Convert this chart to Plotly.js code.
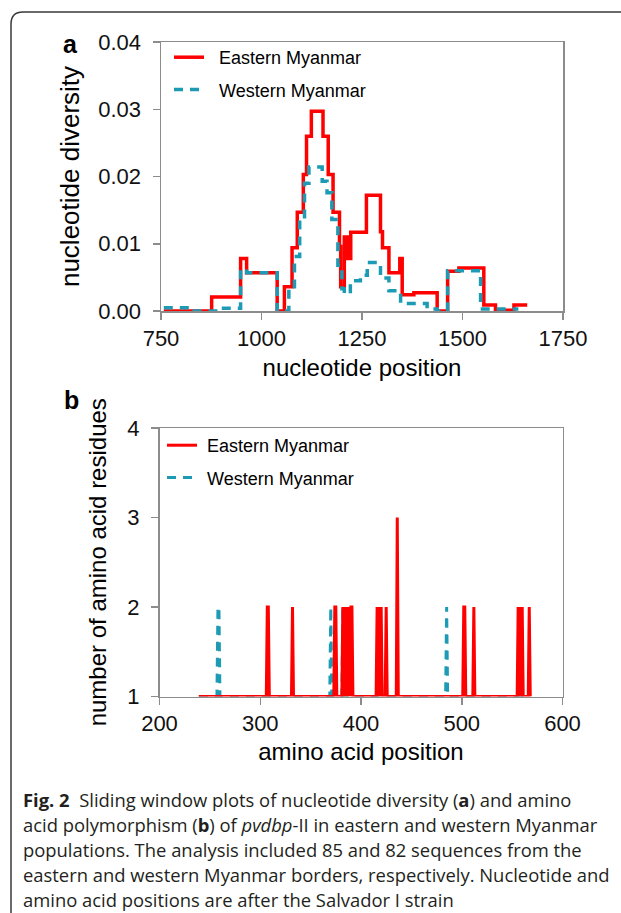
<!DOCTYPE html>
<html>
<head>
<meta charset="utf-8">
<script src="https://cdn.plot.ly/plotly-3.0.1.min.js"></script>
<style>
  html, body { margin: 0; padding: 0; background: #fff; }
  #chart { width: 621px; height: 913px; }
</style>
</head>
<body>
<div id="chart"></div>
<script>
// ---------- Panel a: nucleotide diversity (sliding window, step values) ----------
const ntEastPos = [757, 876, 948, 963, 1039, 1057, 1076, 1089, 1104, 1112, 1124, 1153, 1166, 1178, 1194, 1197, 1206, 1211, 1215, 1219, 1222, 1261, 1296, 1301, 1317, 1344, 1350, 1379, 1437, 1463, 1491, 1553, 1582, 1628, 1661];
const ntEastPi  = [0.0000, 0.0021, 0.0078, 0.0057, 0.0000, 0.0036, 0.0094, 0.0147, 0.0203, 0.0260, 0.0297, 0.0260, 0.0203, 0.0147, 0.0096, 0.0036, 0.0110, 0.0078, 0.0110, 0.0078, 0.0117, 0.0172, 0.0118, 0.0094, 0.0057, 0.0078, 0.0024, 0.0027, 0.0000, 0.0059, 0.0064, 0.0009, 0.0001, 0.0009, 0.0009];

const ntWestPos = [757, 823, 898, 948, 963, 1039, 1068, 1082, 1095, 1107, 1118, 1151, 1163, 1175, 1190, 1200, 1206, 1221, 1246, 1263, 1296, 1317, 1346, 1412, 1437, 1463, 1545, 1639];
const ntWestPi  = [0.0005, 0.0000, 0.0004, 0.0062, 0.0057, 0.0000, 0.0036, 0.0081, 0.0136, 0.0190, 0.0214, 0.0193, 0.0176, 0.0136, 0.0068, 0.0033, 0.0026, 0.0045, 0.0053, 0.0072, 0.0049, 0.0030, 0.0011, 0.0003, 0.0000, 0.0060, 0.0003, 0.0003];

// ---------- Panel b: number of amino acid residues ----------
const aaEastPos = [239, 306, 307, 308, 309, 331, 332, 333, 373, 374, 375, 376,
                   381, 382, 383, 384, 385, 386, 387, 388, 389, 390, 391, 392,
                   415, 416, 417, 418, 419, 420, 421, 424, 425, 426, 435, 436, 437,
                   501, 502, 503, 504, 511, 512, 513,
                   555, 556, 557, 558, 559, 560, 561, 566, 567, 568];
const aaEastRes = [1, 1, 2, 2, 1, 1, 2, 1, 1, 2, 2, 1,
                   1, 2, 1, 2, 1, 2, 1, 2, 1, 2, 2, 1,
                   1, 2, 1, 2, 1, 2, 1, 1, 2, 1, 1, 3, 1,
                   1, 2, 2, 1, 1, 2, 1,
                   1, 2, 1, 2, 1, 2, 1, 1, 2, 1];

const aaWestPos = [239, 257, 258, 259, 260, 369, 370, 371, 381, 382, 383, 389, 390, 391, 484, 485, 486, 568];
const aaWestRes = [1,   1,   2,   2,   1,   1,   2,   1,   1,   2,   1,   1,   2,   1,   1,   2,   1,   1];

const seriesNames = ["Eastern Myanmar", "Western Myanmar"];

const xTitleA = "nucleotide position";
const yTitleA = "nucleotide diversity";
const xTitleB = "amino acid position";
const yTitleB = "number of amino acid residues";

const captionLines = [
  "<b>Fig. 2</b>  Sliding window plots of nucleotide diversity (<b>a</b>) and amino",
  "acid polymorphism (<b>b</b>) of <i>pvdbp</i>-II in eastern and western Myanmar",
  "populations. The analysis included 85 and 82 sequences from the",
  "eastern and western Myanmar borders, respectively. Nucleotide and",
  "amino acid positions are after the Salvador I strain"
];

// ---------- styling ----------
const W = 621, H = 913;
const RED = "#ff0000";
const BLUE = "#1e9bb4";
const AXC = "#8c8c8c";
const FONT = "Liberation Sans, Arial, sans-serif";
const px = v => v / W;
const py = v => 1 - v / H;
const NB = "\u00a0";

const traces = [
  { x: ntEastPos, y: ntEastPi, type: "scatter", mode: "lines", name: NB + NB + seriesNames[0],
    line: { color: RED, width: 3.5, shape: "hv" }, xaxis: "x", yaxis: "y",
    legend: "legend", legendgroup: "e1" },
  { x: ntWestPos, y: ntWestPi, type: "scatter", mode: "lines", name: NB + NB + seriesNames[1],
    line: { color: BLUE, width: 3.5, shape: "hv", dash: "9px,7px" }, xaxis: "x", yaxis: "y",
    legend: "legend", legendgroup: "w1" },
  { x: aaWestPos, y: aaWestRes, type: "scatter", mode: "lines", name: NB + seriesNames[1],
    line: { color: BLUE, width: 3, dash: "9px,7px" }, xaxis: "x2", yaxis: "y2",
    legend: "legend2", legendgroup: "w2", legendrank: 2 },
  { x: aaEastPos, y: aaEastRes, type: "scatter", mode: "lines", name: NB + seriesNames[0],
    line: { color: RED, width: 3 }, xaxis: "x2", yaxis: "y2",
    legend: "legend2", legendgroup: "e2", legendrank: 1 }
];

const axisBase = {
  showline: true, linecolor: AXC, linewidth: 1.5, mirror: true,
  ticks: "outside", ticklen: 7, tickwidth: 1.5, tickcolor: AXC,
  showgrid: false, zeroline: false,
  tickfont: { family: FONT, size: 22, color: "#111" },
  automargin: false, fixedrange: true
};

const annotations = [
  { text: "<b>a</b>", x: px(70), y: py(44), xref: "paper", yref: "paper",
    xanchor: "center", yanchor: "middle", showarrow: false,
    font: { family: FONT, size: 25, color: "#000" } },
  { text: "<b>b</b>", x: px(71), y: py(400), xref: "paper", yref: "paper",
    xanchor: "center", yanchor: "middle", showarrow: false,
    font: { family: FONT, size: 25, color: "#000" } }
];
const capY = [799, 824.2, 849.4, 874.6, 899.8];
captionLines.forEach((t, i) => {
  annotations.push({ text: t, x: px(21), y: py(capY[i]), xref: "paper", yref: "paper",
    xanchor: "left", yanchor: "middle", align: "left", showarrow: false,
    font: { family: "Open Sans, Noto Sans, sans-serif", size: 18.4, color: "#231f20" } });
});

const layout = {
  width: W, height: H,
  margin: { l: 0, r: 0, t: 0, b: 0, pad: 0 },
  paper_bgcolor: "#fff", plot_bgcolor: "#fff",
  font: { family: FONT, color: "#000" },
  showlegend: true,
  xaxis: Object.assign({}, axisBase, {
    domain: [px(161), px(563)], range: [750, 1750], tick0: 750, dtick: 250, anchor: "y",
    title: { text: xTitleA, font: { family: FONT, size: 24, color: "#000" }, standoff: 9 }
  }),
  yaxis: Object.assign({}, axisBase, {
    domain: [py(311), py(42)], range: [0, 0.04], dtick: 0.01, tickformat: ".2f", anchor: "x",
    ticklabelstandoff: 7,
    title: { text: yTitleA, font: { family: FONT, size: 26, color: "#000" }, standoff: 11 }
  }),
  xaxis2: Object.assign({}, axisBase, {
    domain: [px(159.5), px(562.5)], range: [200, 600], dtick: 100, anchor: "y2",
    title: { text: xTitleB, font: { family: FONT, size: 24, color: "#000" }, standoff: 8 }
  }),
  yaxis2: Object.assign({}, axisBase, {
    domain: [py(696.5), py(428)], range: [1, 4], dtick: 1, anchor: "x2",
    ticklabelstandoff: 7,
    title: { text: yTitleB, font: { family: FONT, size: 24, color: "#000" }, standoff: 14 }
  }),
  legend: {
    x: px(169), y: py(39), xanchor: "left", yanchor: "top",
    bgcolor: "rgba(0,0,0,0)", borderwidth: 0, traceorder: "grouped", tracegroupgap: 6,
    font: { family: FONT, size: 18, color: "#000" }, itemwidth: 30
  },
  legend2: {
    x: px(162), y: py(427), xanchor: "left", yanchor: "top",
    bgcolor: "rgba(0,0,0,0)", borderwidth: 0, traceorder: "grouped", tracegroupgap: 6,
    font: { family: FONT, size: 18, color: "#000" }, itemwidth: 30
  },
  shapes: [
    { type: "path", xref: "paper", yref: "paper",
      path: `M ${px(11)},0 L ${px(11)},${py(24)} Q ${px(11)},${py(12)} ${px(23)},${py(12)} L 1.01,${py(12)}`,
      line: { color: "#3a3a3a", width: 1.5 }, layer: "below" }
  ],
  annotations: annotations
};

Plotly.newPlot("chart", traces, layout, { displayModeBar: false, staticPlot: true });
</script>
</body>
</html>
